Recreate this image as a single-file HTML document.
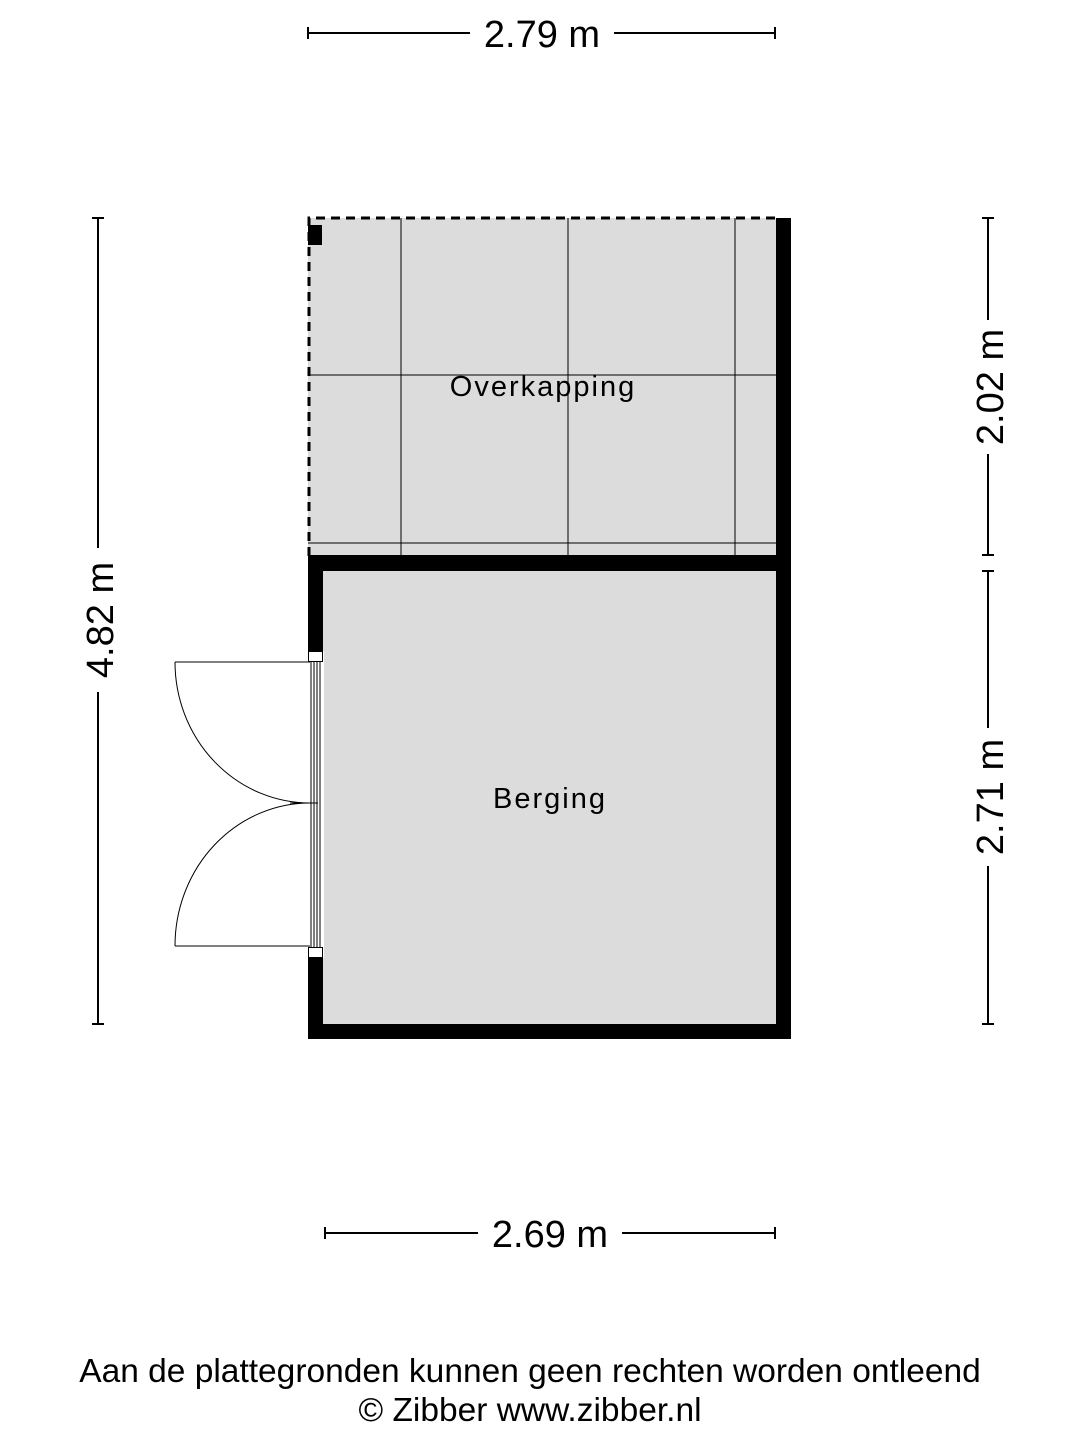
<!DOCTYPE html>
<html><head><meta charset="utf-8"><style>
html,body{margin:0;padding:0;background:#fff;}
svg{display:block;}
text{font-family:"Liberation Sans",sans-serif;fill:#000;}
</style></head><body>
<svg width="1080" height="1440" viewBox="0 0 1080 1440" xmlns="http://www.w3.org/2000/svg">
<rect x="308" y="218" width="470" height="338" fill="#dcdcdc"/>
<g stroke="#000" stroke-width="1">
<line x1="401" y1="218" x2="401" y2="556"/>
<line x1="568" y1="218" x2="568" y2="556"/>
<line x1="735" y1="218" x2="735" y2="556"/>
<line x1="308" y1="375" x2="776" y2="375"/>
<line x1="308" y1="543" x2="776" y2="543"/>
</g>
<path d="M309 556 L309 218 L776 218" fill="none" stroke="#000" stroke-width="3" stroke-dasharray="9,6"/>
<rect x="308" y="225" width="14" height="20" fill="#000"/>
<rect x="308" y="555" width="483" height="484" fill="#000"/>
<rect x="323" y="571" width="453" height="453" fill="#dcdcdc"/>
<rect x="776" y="218" width="15" height="340" fill="#000"/>
<rect x="308" y="651" width="16" height="307" fill="#fff"/>
<rect x="308.5" y="651.5" width="14" height="10" fill="#fff" stroke="#000"/>
<rect x="308.5" y="947.5" width="14" height="10" fill="#fff" stroke="#000"/>
<g stroke="#000" stroke-width="1" fill="none">
<line x1="311" y1="662" x2="311" y2="947"/>
<line x1="314" y1="662" x2="314" y2="947"/>
<line x1="317" y1="662" x2="317" y2="947"/>
<line x1="320" y1="662" x2="320" y2="947"/>
<line x1="175" y1="662" x2="310" y2="662"/>
<line x1="175" y1="946" x2="310" y2="946"/>
<line x1="290" y1="803" x2="318" y2="803"/>
<path d="M175 662 A135 141 0 0 0 310 803"/>
<path d="M175 946 A135 143 0 0 1 310 803"/>
</g>
<text x="543" y="396" font-size="29" text-anchor="middle" letter-spacing="2">Overkapping</text>
<text x="550" y="808" font-size="29" text-anchor="middle" letter-spacing="2">Berging</text>
<g stroke="#000" stroke-width="2">
<line x1="308" y1="33" x2="470" y2="33"/><line x1="614" y1="33" x2="775" y2="33"/>
<line x1="308" y1="27" x2="308" y2="39"/><line x1="775" y1="27" x2="775" y2="39"/>
<line x1="325" y1="1233" x2="478" y2="1233"/><line x1="622" y1="1233" x2="775" y2="1233"/>
<line x1="325" y1="1227" x2="325" y2="1239"/><line x1="775" y1="1227" x2="775" y2="1239"/>
<line x1="98" y1="218" x2="98" y2="548"/><line x1="98" y1="692" x2="98" y2="1024"/>
<line x1="92" y1="218" x2="104" y2="218"/><line x1="92" y1="1024" x2="104" y2="1024"/>
<line x1="988" y1="218" x2="988" y2="320"/><line x1="988" y1="454" x2="988" y2="555"/>
<line x1="982" y1="218" x2="994" y2="218"/><line x1="982" y1="555" x2="994" y2="555"/>
<line x1="988" y1="571" x2="988" y2="728"/><line x1="988" y1="866" x2="988" y2="1024"/>
<line x1="982" y1="571" x2="994" y2="571"/><line x1="982" y1="1024" x2="994" y2="1024"/>
</g>
<text x="542" y="47" font-size="38" text-anchor="middle">2.79 m</text>
<text x="550" y="1247" font-size="38" text-anchor="middle">2.69 m</text>
<text transform="translate(113,620) rotate(-90)" font-size="38" text-anchor="middle">4.82 m</text>
<text transform="translate(1003,387) rotate(-90)" font-size="38" text-anchor="middle">2.02 m</text>
<text transform="translate(1003,797) rotate(-90)" font-size="38" text-anchor="middle">2.71 m</text>
<text x="530" y="1382" font-size="33.5" text-anchor="middle">Aan de plattegronden kunnen geen rechten worden ontleend</text>
<text x="530" y="1421" font-size="33.5" text-anchor="middle">© Zibber www.zibber.nl</text>
</svg>
</body></html>
